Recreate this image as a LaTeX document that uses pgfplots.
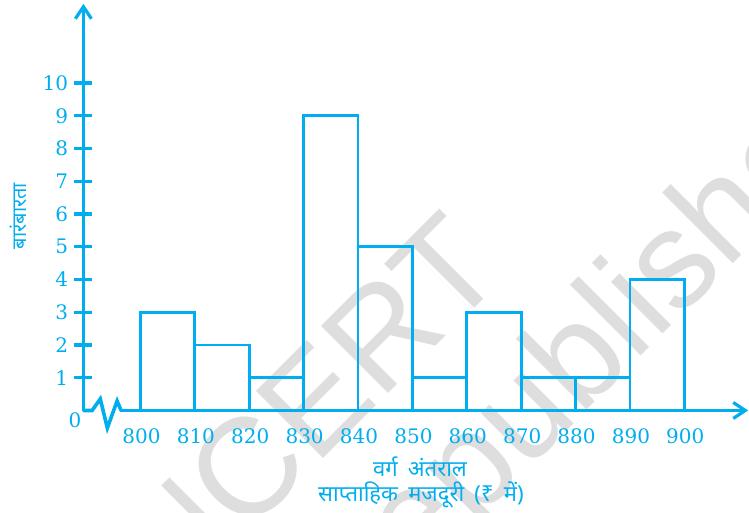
\documentclass[border=0pt]{standalone}
\usepackage{fontspec}
\usepackage{pgfplots}
\pgfplotsset{compat=1.18}
\usetikzlibrary{arrows.meta}
\setmainfont{DejaVu Serif}
\newfontfamily\hindi[Script=Devanagari,WordSpace=1.8]{Noto Sans}
\newfontfamily\wm{Liberation Sans}
\definecolor{ncyan}{RGB}{0,174,239}
\definecolor{wmgray}{RGB}{222,222,222}
\pgfdeclarelayer{bg}
\pgfsetlayers{bg,main}
\begin{document}
\begin{tikzpicture}
\begin{axis}[
  x=2.719pt, y=16.37pt,
  xmin=789.5, xmax=911.9, ymin=0, ymax=12.5,
  clip=false,
  axis line style={draw=none},
  xtick={800,810,...,900}, ytick={1,...,10},
  xtick pos=bottom, ytick pos=left,
  xtick style={draw=none},
  ytick style={draw=ncyan, line width=1.6pt},
  major tick length=9pt, tick align=center,
  /pgf/number format/assume math mode=true,
  /pgf/number format/1000 sep={},
  tick label style={font=\fontsize{10}{12}\selectfont, text=ncyan},
  yticklabel style={anchor=east, inner sep=0pt, xshift=-3pt},
  xticklabel style={anchor=north, inner sep=0pt, yshift=-4.5pt, xshift=0.5pt},
]
\coordinate (TL) at (axis cs:774.16,12.538);
\coordinate (BR) at (axis cs:911.9,-3.131);
% histogram
\addplot[ybar interval, draw=ncyan, fill=none, line width=1.4pt]
  coordinates {(800,3) (810,2) (820,1) (830,9) (840,5) (850,1) (860,3) (870,1) (880,1) (890,4) (900,4)};
% axes
\draw[ncyan, line width=1.8pt, line cap=round, -{Straight Barb[length=6pt,width=8pt,line width=1.6pt]}]
  (axis cs:789.5,0) -- (axis cs:789.5,12.42);
\draw[ncyan, line width=1.8pt, line join=miter]
  (axis cs:789.5,0) -- (axis cs:791.1,0) -- (axis cs:792.6,0.352) -- (axis cs:793.9,-0.534)
  -- (axis cs:795.7,0.290) -- (axis cs:796.43,0);
\draw[ncyan, line width=1.8pt, -{Straight Barb[length=6pt,width=8pt,line width=1.6pt]}]
  (axis cs:796.3,0) -- (axis cs:911.74,0);
\end{axis}
\pgfresetboundingbox
\path[use as bounding box] (TL) rectangle (BR);
\begin{scope}[shift={(TL)}, x=0.5pt, y=-0.5pt]
  \begin{pgfonlayer}{bg}
    \node[overlay, rotate=45, text=wmgray, font=\wm\fontsize{69}{75}\selectfont, inner sep=0pt]
      at (308,407) {NCERT};
    \node[overlay, rotate=45, text=wmgray, font=\wm\fontsize{69}{75}\selectfont, inner sep=0pt]
      at (409,538) {not to be republished};
  \end{pgfonlayer}
  \node[text=ncyan, font=\fontsize{10}{12}\selectfont, inner sep=0pt] at (75,420) {0};
  \node[text=ncyan, font=\hindi\fontsize{11}{13}\selectfont, inner sep=0pt] at (420,467) {वर्ग अंतराल};
  \node[text=ncyan, font=\hindi\fontsize{11}{13}\selectfont, inner sep=0pt] at (421,495) {साप्ताहिक मजदूरी (₹ में)};
  \node[text=ncyan, font=\hindi\fontsize{10}{12}\selectfont, inner sep=0pt, rotate=90] at (18,216) {बारंबारता};
\end{scope}
\end{tikzpicture}
\end{document}
